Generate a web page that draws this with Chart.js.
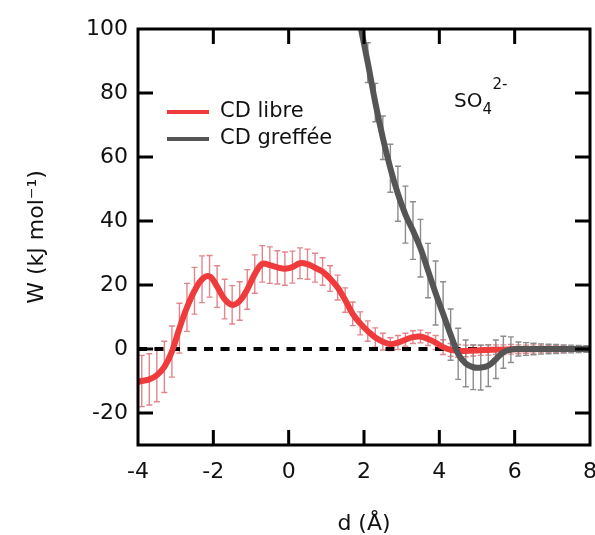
<!DOCTYPE html>
<html>
<head>
<meta charset="utf-8">
<script src="https://cdn.jsdelivr.net/npm/chart.js@4.4.1/dist/chart.umd.min.js"></script>
<style>
  html, body { margin: 0; padding: 0; background: #fff; }
  #wrap { width: 595px; height: 535px; }
</style>
</head>
<body>
<div id="wrap"><canvas id="pmfChart" width="595" height="535"></canvas></div>
<script>
// tick values
const xTicks = [-4, -2, 0, 2, 4, 6, 8];
const yTicks = [-30, -20, 0, 20, 40, 60, 80, 100];

// CD libre (red)
const dRed = [-4, -3.9, -3.7, -3.5, -3.3, -3.1, -2.9, -2.7, -2.5, -2.3,
  -2.1, -1.9, -1.7, -1.5, -1.3, -1.1, -0.9, -0.7, -0.5, -0.3,
  -0.1, 0.1, 0.3, 0.5, 0.7, 0.9, 1.1, 1.3, 1.5, 1.7,
  1.9, 2.1, 2.3, 2.5, 2.7, 2.9, 3.1, 3.3, 3.5, 3.7,
  3.9, 4.1, 4.3, 4.5, 4.7, 4.9, 5.1, 5.3, 5.5, 5.7,
  5.9, 6.1, 6.3, 6.5, 6.7, 6.9, 7.1, 7.3, 7.5, 7.7,
  7.9, 8];
const wRed = [-10.3, -10.0, -9.5, -8.2, -5.6, -0.8, 6.5, 13.0, 18.2, 21.8,
  22.7, 19.5, 15.6, 13.8, 15.0, 18.6, 23.4, 26.6, 26.2, 25.5,
  25.1, 25.6, 26.8, 26.5, 25.4, 24.2, 22.0, 19.2, 15.3, 11.0,
  8.0, 5.6, 3.6, 2.3, 1.5, 2.0, 2.9, 3.7, 3.9, 3.1,
  2.0, 0.6, -0.3, -0.6, -0.6, -0.5, -0.4, -0.3, -0.2, -0.2,
  -0.1, -0.1, -0.1, 0, 0, 0, 0, 0, 0, 0,
  0, 0];
const eRed = [null, 8, 8, 8.3, 8, 8, 7.8, 7.5, 7.3, 7.3,
  6.5, 6.5, 6.2, 6, 6, 6.2, 6, 5.7, 5.7, 5.2,
  5.2, 5, 4.8, 4.7, 4.5, 4.3, 4, 3.9, 3.8, 3.7,
  3.6, 3.2, 3, 2.6, 2, 2.2, 2, 2, 2, 2,
  2.2, 2.3, 2, 2, 1.8, 1.7, 1.6, 1.6, 1.5, 1.5,
  1.5, 1.4, 1.3, 1.3, 1.2, 1.1, 1, 1, 0.9, 0.8,
  0.7, null];

// CD greffée (grey)
const dGrey = [1.85, 2.1, 2.3, 2.5, 2.7, 2.9, 3.1, 3.3, 3.5, 3.7,
  3.9, 4.1, 4.3, 4.5, 4.7, 4.9, 5.1, 5.3, 5.5, 5.7,
  5.9, 6.1, 6.3, 6.5, 6.7, 6.9, 7.1, 7.3, 7.5, 7.7,
  7.9, 8];
const wGrey = [104, 89.5, 77, 66, 56.5, 48.5, 42, 37, 31.5, 24.5,
  17.5, 11, 4.5, -1.5, -4.5, -5.7, -5.8, -5.2, -3.2, -1.0,
  -0.2, 0, 0, 0, 0, 0, 0, 0, 0, 0,
  0, 0];
const eGrey = [null, 6.2, 6, 6.8, 7.5, 8.6, 8.9, 9, 9, 8.5,
  10, 10, 8, 8, 7.3, 7, 7, 6.5, 6, 5,
  4, 2.2, 2, 1.8, 1.6, 1.5, 1.4, 1.3, 1.2, 1.1,
  1, null];

const zeroLine = [{ x: -4, y: 0 }, { x: 8, y: 0 }];

const FONT = "'DejaVu Sans', sans-serif";

function toPoints(xs, ys) {
  return xs.map((x, i) => ({ x: x, y: ys[i] }));
}

// error bars, drawn under the curves
const errorBars = {
  id: 'errorBars',
  beforeDatasetsDraw(chart) {
    const { ctx, chartArea, scales } = chart;
    ctx.save();
    ctx.beginPath();
    ctx.rect(chartArea.left, chartArea.top, chartArea.right - chartArea.left, chartArea.bottom - chartArea.top);
    ctx.clip();
    chart.data.datasets.forEach(ds => {
      if (!ds.err) return;
      ctx.strokeStyle = ds.errColor;
      ctx.lineWidth = 1.4;
      ds.data.forEach((p, i) => {
        const e = ds.err[i];
        if (e == null) return;
        const px = scales.x.getPixelForValue(p.x);
        const top = scales.y.getPixelForValue(p.y + e);
        const bot = scales.y.getPixelForValue(p.y - e);
        ctx.beginPath();
        ctx.moveTo(px, top); ctx.lineTo(px, bot);
        ctx.moveTo(px - 3, top); ctx.lineTo(px + 3, top);
        ctx.moveTo(px - 3, bot); ctx.lineTo(px + 3, bot);
        ctx.stroke();
      });
    });
    ctx.restore();
  }
};

// box frame with inward ticks, legend and ion label
const frame = {
  id: 'frame',
  afterDraw(chart) {
    const { ctx, chartArea: a, scales } = chart;
    ctx.save();
    ctx.strokeStyle = '#000';
    ctx.lineWidth = 3;
    ctx.strokeRect(a.left, a.top, a.right - a.left, a.bottom - a.top);
    const tl = 15;
    ctx.beginPath();
    xTicks.slice(1, -1).forEach(v => {
      const px = scales.x.getPixelForValue(v);
      ctx.moveTo(px, a.bottom); ctx.lineTo(px, a.bottom - tl);
      ctx.moveTo(px, a.top); ctx.lineTo(px, a.top + tl);
    });
    yTicks.slice(1, -1).forEach(v => {
      const py = scales.y.getPixelForValue(v);
      ctx.moveTo(a.left, py); ctx.lineTo(a.left + tl, py);
      ctx.moveTo(a.right, py); ctx.lineTo(a.right - tl, py);
    });
    ctx.stroke();

    // legend
    ctx.font = '21px ' + FONT;
    ctx.textBaseline = 'middle';
    ctx.fillStyle = '#111';
    chart.data.datasets.filter(ds => ds.label).forEach((ds, i) => {
      const y = 112 + i * 27;
      ctx.strokeStyle = ds.borderColor;
      ctx.lineWidth = 4;
      ctx.beginPath();
      ctx.moveTo(167, y); ctx.lineTo(209, y);
      ctx.stroke();
      ctx.fillText(ds.label, 220, y);
    });

    // SO4 2-
    ctx.textBaseline = 'alphabetic';
    ctx.font = '20px ' + FONT;
    ctx.fillText('SO', 454, 107);
    const w = ctx.measureText('SO').width;
    ctx.font = '15px ' + FONT;
    ctx.fillText('4', 454 + w, 114);
    ctx.fillText('2-', 454 + w + 10, 89);
    ctx.restore();
  }
};

const config = {
  type: 'line',
  data: {
    datasets: [
      {
        label: 'CD libre',
        data: toPoints(dRed, wRed),
        err: eRed,
        errColor: '#e3868c',
        borderColor: '#ef3b3b',
        borderWidth: 6,
        pointRadius: 0,
        tension: 0.4,
        clip: 0,
        order: 2
      },
      {
        label: 'CD greffée',
        data: toPoints(dGrey, wGrey),
        err: eGrey,
        errColor: '#8c8c8c',
        borderColor: '#555555',
        borderWidth: 6,
        pointRadius: 0,
        tension: 0.4,
        clip: 0,
        order: 1
      },
      {
        data: zeroLine,
        borderColor: '#000',
        borderWidth: 4,
        borderDash: [9, 7.5],
        pointRadius: 0,
        clip: 0,
        order: 3
      }
    ]
  },
  options: {
    responsive: false,
    animation: false,
    layout: { padding: { top: 29, right: 5, left: 0, bottom: 0 } },
    plugins: {
      legend: { display: false },
      tooltip: { enabled: false }
    },
    scales: {
      x: {
        type: 'linear',
        min: -4,
        max: 8,
        afterBuildTicks: s => { s.ticks = xTicks.map(v => ({ value: v })); },
        afterFit: s => { s.height = 90; s.paddingLeft = 0; s.paddingRight = 0; },
        grid: { display: false, drawTicks: false },
        border: { display: false },
        ticks: {
          padding: 14,
          color: '#111',
          font: { family: FONT, size: 22 },
          callback: v => String(v)
        },
        title: {
          display: true,
          text: 'd (Å)',
          color: '#111',
          font: { family: FONT, size: 22, lineHeight: 1 },
          padding: { top: 0, bottom: 0 }
        }
      },
      y: {
        min: -30,
        max: 100,
        afterBuildTicks: s => { s.ticks = yTicks.map(v => ({ value: v })); },
        afterFit: s => { s.width = 138; s.paddingTop = 0; s.paddingBottom = 0; },
        grid: { display: false, drawTicks: false },
        border: { display: false },
        ticks: {
          padding: 10,
          color: '#111',
          font: { family: FONT, size: 22 },
          callback: v => (v === -30 ? '' : String(v))
        },
        title: {
          display: true,
          text: 'W (kJ mol⁻¹)',
          color: '#111',
          font: { family: FONT, size: 22, lineHeight: 1 },
          padding: { top: 26, bottom: 0 }
        }
      }
    }
  },
  plugins: [errorBars, frame]
};

const pmfChart = new Chart(document.getElementById('pmfChart').getContext('2d'), config);
</script>
</body>
</html>
